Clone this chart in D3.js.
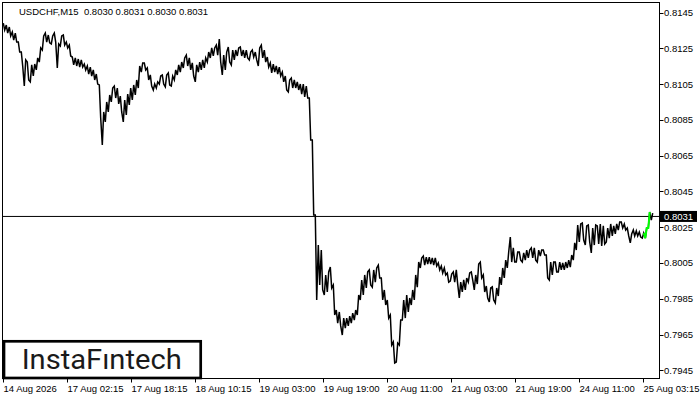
<!DOCTYPE html>
<html><head><meta charset="utf-8">
<script src="https://cdn.jsdelivr.net/npm/d3@7"></script>
<style>body{margin:0;background:#fff}svg{display:block}</style>
</head><body>
<svg id="c" width="700" height="400"></svg>
<script>
// ---------- data ----------
const symbol = "USDCHF,M15";
const lastOHLC = [0.8030, 0.8031, 0.8030, 0.8031];
const currentPrice = 0.8031;
// sampled M15 bars (every 3rd bar), high and low prices
const highs = [
0.81391,0.81380,0.81369,0.81341,0.81335,0.81285,0.81229,0.81185,0.81173,0.81157,
0.81162,0.81196,0.81252,0.81319,0.81335,0.81324,0.81319,0.81335,0.81274,0.81319,
0.81324,0.81285,0.81268,0.81201,0.81196,0.81190,0.81185,0.81162,0.81151,0.81145,
0.81129,0.81106,0.81045,0.80894,0.80950,0.80989,0.81028,0.81039,0.81028,0.80983,
0.80961,0.80994,0.81028,0.81045,0.81073,0.81151,0.81168,0.81168,0.81140,0.81101,
0.81050,0.81062,0.81095,0.81101,0.81101,0.81112,0.81095,0.81129,0.81157,0.81173,
0.81196,0.81212,0.81196,0.81168,0.81157,0.81173,0.81185,0.81196,0.81229,0.81252,
0.81252,0.81268,0.81302,0.81212,0.81229,0.81257,0.81240,0.81240,0.81252,0.81257,
0.81240,0.81240,0.81229,0.81240,0.81229,0.81252,0.81268,0.81240,0.81201,0.81168,
0.81162,0.81151,0.81145,0.81117,0.81095,0.81073,0.81084,0.81073,0.81062,0.81050,
0.81050,0.81039,0.80972,0.80737,0.80318,0.80150,0.80122,0.79983,0.80000,0.80027,
0.79927,0.79787,0.79776,0.79742,0.79742,0.79753,0.79770,0.79787,0.79871,0.79955,
0.79983,0.80000,0.80011,0.80011,0.80022,0.80038,0.79966,0.79899,0.79843,0.79759,
0.79608,0.79602,0.79731,0.79843,0.79871,0.79854,0.79899,0.79983,0.80055,0.80078,
0.80089,0.80083,0.80083,0.80078,0.80078,0.80050,0.80033,0.80022,0.79994,0.79988,
0.80000,0.80011,0.79943,0.79955,0.79966,0.79994,0.80000,0.79983,0.80044,0.80055,
0.79983,0.79921,0.79910,0.79916,0.79910,0.79971,0.80022,0.80066,0.80111,0.80195,
0.80134,0.80111,0.80111,0.80106,0.80122,0.80122,0.80134,0.80134,0.80122,0.80122,
0.80122,0.80094,0.80055,0.80055,0.80055,0.80055,0.80050,0.80055,0.80066,0.80094,
0.80162,0.80262,0.80268,0.80273,0.80257,0.80262,0.80245,0.80262,0.80257,0.80268,
0.80257,0.80245,0.80268,0.80257,0.80268,0.80279,0.80279,0.80268,0.80245,0.80212,
0.80234,0.80229,0.80223,0.80217,0.80245,0.80335,0.80329
];
const lows = [
0.81352,0.81335,0.81319,0.81296,0.81285,0.81229,0.81151,0.81039,0.81073,0.81062,
0.81095,0.81129,0.81173,0.81240,0.81285,0.81280,0.81274,0.81285,0.81140,0.81263,
0.81268,0.81252,0.81207,0.81157,0.81151,0.81145,0.81145,0.81129,0.81106,0.81095,
0.81073,0.81050,0.80860,0.80709,0.80838,0.80894,0.80950,0.80972,0.80939,0.80894,
0.80838,0.80877,0.80933,0.80961,0.80989,0.81028,0.81117,0.81129,0.81073,0.81039,
0.81017,0.81028,0.81050,0.81050,0.81034,0.81045,0.81039,0.81073,0.81101,0.81117,
0.81140,0.81151,0.81129,0.81095,0.81062,0.81117,0.81129,0.81140,0.81173,0.81196,
0.81207,0.81212,0.81173,0.81101,0.81129,0.81173,0.81157,0.81185,0.81207,0.81207,
0.81196,0.81196,0.81185,0.81201,0.81185,0.81151,0.81196,0.81173,0.81145,0.81112,
0.81117,0.81106,0.81095,0.81062,0.81017,0.81006,0.81028,0.81028,0.81017,0.80994,
0.80978,0.80972,0.80737,0.80318,0.79843,0.79927,0.79899,0.79871,0.79888,0.79910,
0.79759,0.79714,0.79698,0.79647,0.79686,0.79698,0.79714,0.79731,0.79759,0.79843,
0.79871,0.79910,0.79927,0.79915,0.79943,0.79966,0.79843,0.79815,0.79742,0.79591,
0.79491,0.79496,0.79591,0.79731,0.79742,0.79776,0.79815,0.79843,0.79915,0.80022,
0.80038,0.80044,0.80044,0.80038,0.80033,0.80011,0.79994,0.79983,0.79943,0.79949,
0.79943,0.79932,0.79854,0.79888,0.79899,0.79943,0.79955,0.79899,0.79932,0.79966,
0.79888,0.79854,0.79832,0.79843,0.79826,0.79865,0.79927,0.79966,0.80022,0.80055,
0.80055,0.80055,0.80066,0.80055,0.80066,0.80078,0.80078,0.80066,0.80055,0.80089,
0.80094,0.79966,0.79955,0.79983,0.80000,0.80000,0.80011,0.80011,0.80022,0.80027,
0.80066,0.80122,0.80167,0.80178,0.80150,0.80167,0.80106,0.80150,0.80156,0.80145,
0.80156,0.80167,0.80189,0.80201,0.80212,0.80234,0.80245,0.80234,0.80201,0.80162,
0.80201,0.80201,0.80195,0.80189,0.80189,0.80245,0.80290
];
const greenBars = [214, 215];
const yTicks = [0.8145,0.8125,0.8105,0.8085,0.8065,0.8045,0.8025,0.8005,0.7985,0.7965,0.7945];
const xTickLabels = ["14 Aug 2026","17 Aug 02:15","17 Aug 18:15","18 Aug 10:15","19 Aug 03:00",
  "19 Aug 19:00","20 Aug 11:00","21 Aug 03:00","21 Aug 19:00","24 Aug 11:00","25 Aug 03:15"];
const barsPerLabel = 64;   // M15 bars between time labels
const sampleStep = 3;      // M15 bars between sampled bars
const logoText = "InstaF\u0131ntech";

// ---------- layout ----------
const svg = d3.select("#c");
const FONT = "'Liberation Sans', Arial, sans-serif";
const pL = 2.5, pR = 659.5, pT = 2.5, pB = 378.5;
const x = d3.scaleLinear().domain([0, 656]).range([3, 659]);
const y = d3.scaleLinear().domain([0.7945, 0.8145]).range([370.3, 12.5]);

svg.append("rect").attr("width",700).attr("height",400).attr("fill","#fff");

// current price line
svg.append("line").attr("x1",pL).attr("x2",pR)
  .attr("y1",y(currentPrice)).attr("y2",y(currentPrice))
  .attr("stroke","#000").attr("stroke-width",1);

// price trace (bars as zigzag high/low)
const bars = highs.map((h,i)=>({i, n: 1 + i*sampleStep, h, l: lows[i]}));
function barPts(b, idx){
  const nxt = bars[idx+1];
  const up = nxt ? (nxt.h + nxt.l) > (b.h + b.l) : true;
  const cx = x(b.n);
  return up ? [[cx-0.7, y(b.l)],[cx+0.7, y(b.h)]] : [[cx-0.7, y(b.h)],[cx+0.7, y(b.l)]];
}
const allPts = bars.flatMap((b,idx)=>barPts(b,idx));
const line = d3.line();
svg.append("path").attr("d", line(allPts)).attr("fill","none")
  .attr("stroke","#000").attr("stroke-width",1.5).attr("stroke-linejoin","miter");

// green highlighted bars
const gPts = [barPts(bars[greenBars[0]-1], greenBars[0]-1)[1]]
  .concat(greenBars.flatMap(i=>barPts(bars[i], i)));
svg.append("path").attr("d", line(gPts)).attr("fill","none")
  .attr("stroke","#00ff00").attr("stroke-width",2);

// frame
svg.append("rect").attr("x",pL).attr("y",pT)
  .attr("width",pR-pL).attr("height",pB-pT)
  .attr("fill","none").attr("stroke","#000").attr("stroke-width",1);

// right axis
const ya = svg.append("g");
yTicks.forEach(v=>{
  const yy = Math.round(y(v))+0.5;
  ya.append("line").attr("x1",pR).attr("x2",pR+4).attr("y1",yy).attr("y2",yy)
    .attr("stroke","#000");
  ya.append("text").attr("x",664).attr("y",y(v)+3.5).text(v.toFixed(4))
    .attr("font-family",FONT).attr("font-size",9.5).attr("fill","#000");
});
// current price tag
svg.append("rect").attr("x",660).attr("y",y(currentPrice)-5.5).attr("width",37).attr("height",11)
  .attr("fill","#000");
svg.append("text").attr("x",664).attr("y",y(currentPrice)+3.5).text(currentPrice.toFixed(4))
  .attr("font-family",FONT).attr("font-size",9.5).attr("fill","#fff");

// bottom axis
xTickLabels.forEach((lab,k)=>{
  const xx = Math.round(x(k*barsPerLabel))+0.5;
  svg.append("line").attr("x1",xx).attr("x2",xx).attr("y1",pB).attr("y2",pB+4)
    .attr("stroke","#000");
  svg.append("text").attr("x",x(k*barsPerLabel)+0.5).attr("y",392).text(lab)
    .attr("font-family",FONT).attr("font-size",9.5).attr("fill","#000");
});

// title
svg.append("text").attr("x",19).attr("y",15).style("white-space","pre")
  .text(symbol + "  " + lastOHLC.map(v=>v.toFixed(4)).join(" "))
  .attr("font-family",FONT).attr("font-size",9.5).attr("fill","#000");

// logo box
svg.append("rect").attr("x",4).attr("y",341.3).attr("width",196.7).attr("height",36.7)
  .attr("fill","#fff").attr("stroke","#000").attr("stroke-width",2.7);
svg.append("text").attr("x",21.7).attr("y",369.3).text(logoText)
  .attr("font-family","Roboto, 'Open Sans', sans-serif").attr("font-size",28)
  .attr("textLength",160).attr("lengthAdjust","spacingAndGlyphs")
  .attr("fill","#1a1a1a");
</script>
</body></html>
